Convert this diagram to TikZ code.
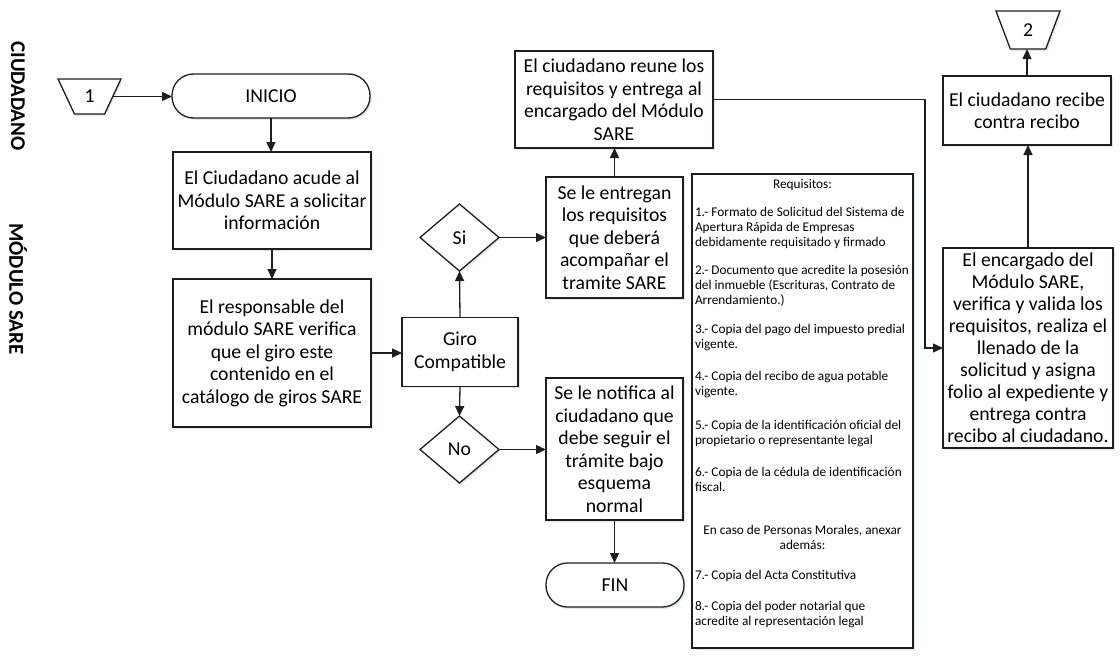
\documentclass[tikz,border=0pt]{standalone}
\usepackage{fontspec}
\setmainfont{Carlito}
\usetikzlibrary{shapes.geometric,arrows.meta,shadows}
\definecolor{edge}{RGB}{30,30,30}
\definecolor{shade}{RGB}{196,208,230}
\newcommand\boxfont{\fontsize{19.7}{22.5}\selectfont}
\newcommand\notefont{\fontsize{13.3}{15}\selectfont}
\newcommand\lanefont{\fontsize{21}{24}\selectfont\bfseries}

\begin{document}
\begin{tikzpicture}[x=1pt,y=-1pt,
  every node/.style={inner sep=0pt,outer sep=0pt},
  flowbox/.style={draw=edge,line width=1.3pt,fill=white,align=center,font=\boxfont,
    drop shadow={shadow xshift=1.6pt,shadow yshift=-1.8pt,fill=shade,opacity=.5}},
  proc/.style={flowbox,rectangle},
  term/.style={flowbox,rectangle,rounded corners=21.5pt,minimum height=44pt},
  decide/.style={flowbox,diamond,minimum width=79pt,minimum height=67pt},
  offpage/.style={flowbox,trapezium,trapezium stretches=true},
  arr/.style={draw=edge,line width=1.3pt,-{Triangle[length=10pt,width=9pt]}},
  lane/.style={font=\lanefont,rotate=-90},
  note/.style={font=\notefont,align=left,anchor=west},
  notec/.style={font=\notefont,align=center}
]
\useasboundingbox (0,0) rectangle (1120,656);

% swimlane titles
\node[lane] (laneA) at (18,96) {CIUDADANO};
\node[lane] (laneB) at (18,289) {MÓDULO SARE};

% left column
\node[offpage,trapezium left angle=113.2,trapezium right angle=113.2,
      minimum width=63pt,minimum height=35pt] (c1) at (89.5,96.5) {1};
\node[term,minimum width=198pt] (inicio) at (271,96) {INICIO};
\node[proc,minimum width=198pt,minimum height=97pt] (b1) at (272,200.5)
  {El Ciudadano acude al\\Módulo SARE a solicitar\\información};
\node[proc,minimum width=198pt,minimum height=148pt] (b2) at (272,353)
  {El responsable del\\módulo SARE verifica\\que el giro este\\contenido en el\\catálogo de giros SARE};

% decision column
\node[proc,minimum width=116pt,minimum height=69pt] (giro) at (460,352) {Giro\\Compatible};
\node[decide] (si) at (459.5,237.5) {Si};
\node[decide] (no) at (459.5,449.5) {No};

% outcome column
\node[proc,minimum width=137pt,minimum height=121pt] (entregan) at (614.5,237.5)
  {Se le entregan\\los requisitos\\que deberá\\acompañar el\\tramite SARE};
\node[proc,minimum width=198pt,minimum height=97pt] (reune) at (614,99.5)
  {El ciudadano reune los\\requisitos y entrega al\\encargado del Módulo\\SARE};
\node[proc,minimum width=137pt,minimum height=142pt] (notifica) at (614.5,449)
  {Se le notifica al\\ciudadano que\\debe seguir el\\trámite bajo\\esquema\\normal};
\node[term,minimum width=138pt] (fin) at (615,585) {FIN};

% list of requirements
\node[proc,minimum width=221pt,minimum height=474pt] (req) at (802.5,411) {};
\node[notec] (rq0) at (req.center |- 0,185) {Requisitos:};
\node[note] (rq1) at (695,228) {1.- Formato de Solicitud del Sistema de\\Apertura Rápida de Empresas\\debidamente requisitado y firmado};
\node[note] (rq2) at (695,286) {2.- Documento que acredite la posesión\\del inmueble (Escrituras, Contrato de\\Arrendamiento.)};
\node[note] (rq3) at (695,337.5) {3.- Copia del pago del impuesto predial\\vigente.};
\node[note] (rq4) at (695,384.5) {4.- Copia del recibo de agua potable\\vigente.};
\node[note] (rq5) at (695,433.5) {5.- Copia de la identificación oficial del\\propietario o representante legal};
\node[note] (rq6) at (695,479.5) {6.- Copia de la cédula de identificación\\fiscal.};
\node[notec] (rqm) at (req.center |- 0,537.5) {En caso de Personas Morales, anexar\\además:};
\node[note] (rq7) at (695,576) {7.- Copia del Acta Constitutiva};
\node[note] (rq8) at (695,614.5) {8.- Copia del poder notarial que\\acredite al representación legal};

% right column
\node[proc,minimum width=170pt,minimum height=200pt,font=\fontsize{19.7}{22}\selectfont] (encargado) at (1028,348)
  {El encargado del\\Módulo SARE,\\verifica y valida los\\requisitos, realiza el\\llenado de la\\solicitud y asigna\\folio al expediente y\\entrega contra\\recibo al ciudadano.};
\node[proc,minimum width=168pt,minimum height=69pt] (recibe) at (1027,110.5)
  {El ciudadano recibe\\contra recibo};
\node[offpage,trapezium left angle=107.5,trapezium right angle=107.5,
      minimum width=64pt,minimum height=38pt] (c2) at (1028,30) {2};

% connectors
\draw[arr] (c1.east) -- (c1.east -| inicio.west);
\draw[arr] (inicio.south) -- (inicio.south |- b1.north);
\draw[arr] (b1.south) -- (b1.south |- b2.north);
\draw[arr] (b2.east) -- (b2.east -| giro.west);
\draw[arr] (giro.north) -- (si.south);
\draw[arr] (si.east) -- (si.east -| entregan.west);
\draw[arr] (entregan.north) -- (entregan.north |- reune.south);
\draw[arr] (giro.south) -- (no.north);
\draw[arr] (no.east) -- (no.east -| notifica.west);
\draw[arr] (notifica.south) -- (notifica.south |- fin.north);
\coordinate (jog) at (925,100);
\draw[arr] (reune.east) -- (reune.east -| jog) |- (encargado.west);
\draw[arr] (encargado.north) -- (encargado.north |- recibe.south);
\draw[arr] (recibe.north) -- (recibe.north |- c2.south);
\end{tikzpicture}
\end{document}
